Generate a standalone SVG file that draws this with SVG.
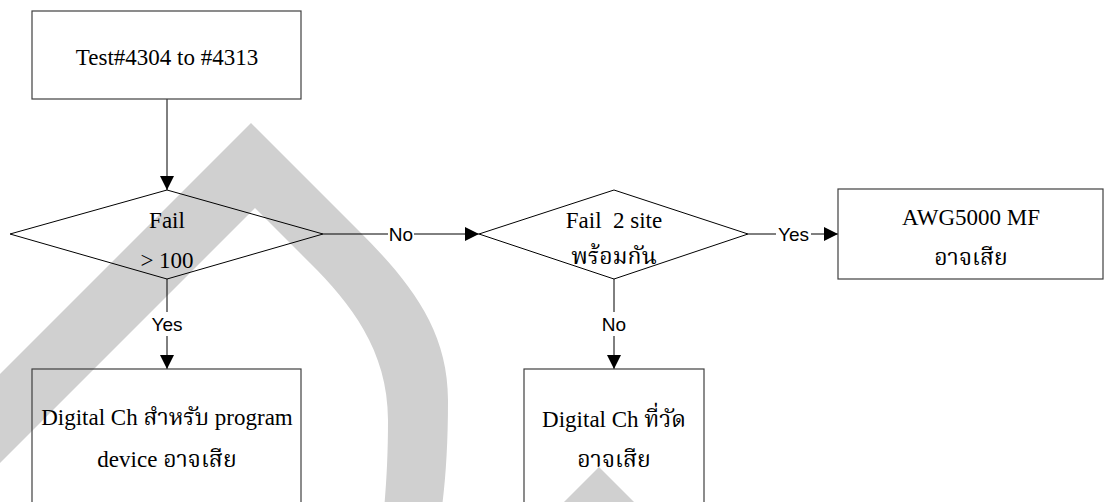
<svg xmlns="http://www.w3.org/2000/svg" width="1105" height="502" viewBox="0 0 1105 502">
  <style>
    .box { fill: none; stroke: #404040; stroke-width: 1.2; }
    .dec { fill: none; stroke: #000; stroke-width: 1; }
    .edge { fill: none; stroke: #000; stroke-width: 1; }
    .txt { font-family: "Liberation Serif", "Norasi", "Kinnari", "Noto Serif Thai", "Noto Sans Thai", "DejaVu Sans", serif; font-size: 23px; fill: #000; text-anchor: middle; }
    .lbl { font-family: "Liberation Sans", Arial, sans-serif; font-size: 19px; fill: #000; text-anchor: middle; }
    .wm { fill: #d0d0d0; stroke: none; }
  </style>
  <defs>
    <marker id="arrow" markerUnits="userSpaceOnUse" markerWidth="14" markerHeight="14" viewBox="0 0 13 13" refX="13" refY="6.5" orient="auto">
      <path d="M0,0 L13,6.5 L0,13 Z" fill="#000"/>
    </marker>
  </defs>

  <!-- background watermark -->
  <g id="watermark">
    <path class="wm" d="M0,374 L251,123 L360,232 C410,282 448,330 448,400 C448,450 445,490 440,520 L383,520 C386,490 388,460 388,420 C388,350 350,303 310,263 L255,208 L0,463 Z"/>
    <polygon class="wm" points="599,467 650,518 548,518"/>
  </g>

  <!-- connectors -->
  <g id="connectors">
    <line class="edge" x1="167" y1="99" x2="167" y2="190" marker-end="url(#arrow)"/>
    <line class="edge" x1="323" y1="234" x2="388" y2="234"/>
    <line class="edge" x1="414" y1="234" x2="479" y2="234" marker-end="url(#arrow)"/>
    <text class="lbl" x="401" y="241">No</text>
    <line class="edge" x1="748" y1="234" x2="776" y2="234"/>
    <line class="edge" x1="811" y1="234" x2="838" y2="234" marker-end="url(#arrow)"/>
    <text class="lbl" x="793.5" y="241">Yes</text>
    <line class="edge" x1="167" y1="279" x2="167" y2="312"/>
    <line class="edge" x1="167" y1="336" x2="167" y2="369" marker-end="url(#arrow)"/>
    <text class="lbl" x="167" y="331">Yes</text>
    <line class="edge" x1="614" y1="279" x2="614" y2="312"/>
    <line class="edge" x1="614" y1="336" x2="614" y2="369" marker-end="url(#arrow)"/>
    <text class="lbl" x="614" y="331">No</text>
  </g>

  <g id="start">
    <rect class="box" x="32" y="11" width="269" height="88"/>
    <text class="txt" x="167" y="65">Test#4304 to #4313</text>
  </g>

  <g id="fail-count">
    <polygon class="dec" points="167,190 323,234 167,279 10,234"/>
    <text class="txt" x="167" y="228">Fail</text>
    <text class="txt" x="167" y="268">&gt; 100</text>
  </g>

  <g id="fail-both-sites">
    <polygon class="dec" points="614,190 748,234 614,279 479,234"/>
    <text class="txt" x="614" y="228" xml:space="preserve">Fail  2 site</text>
    <text class="txt" x="614" y="264">พร้อมกัน</text>
  </g>

  <g id="awg-fault">
    <rect class="box" x="838" y="189" width="265" height="90"/>
    <text class="txt" x="971" y="225">AWG5000 MF</text>
    <text class="txt" x="971" y="265">อาจเสีย</text>
  </g>

  <g id="program-ch-fault">
    <rect class="box" x="32" y="369" width="269" height="150"/>
    <text class="txt" x="167" y="425">Digital Ch สำหรับ program</text>
    <text class="txt" x="167" y="467">device อาจเสีย</text>
  </g>

  <g id="measured-ch-fault">
    <rect class="box" x="524" y="369" width="180" height="150"/>
    <text class="txt" x="614" y="427">Digital Ch ที่วัด</text>
    <text class="txt" x="614" y="467">อาจเสีย</text>
  </g>
</svg>
